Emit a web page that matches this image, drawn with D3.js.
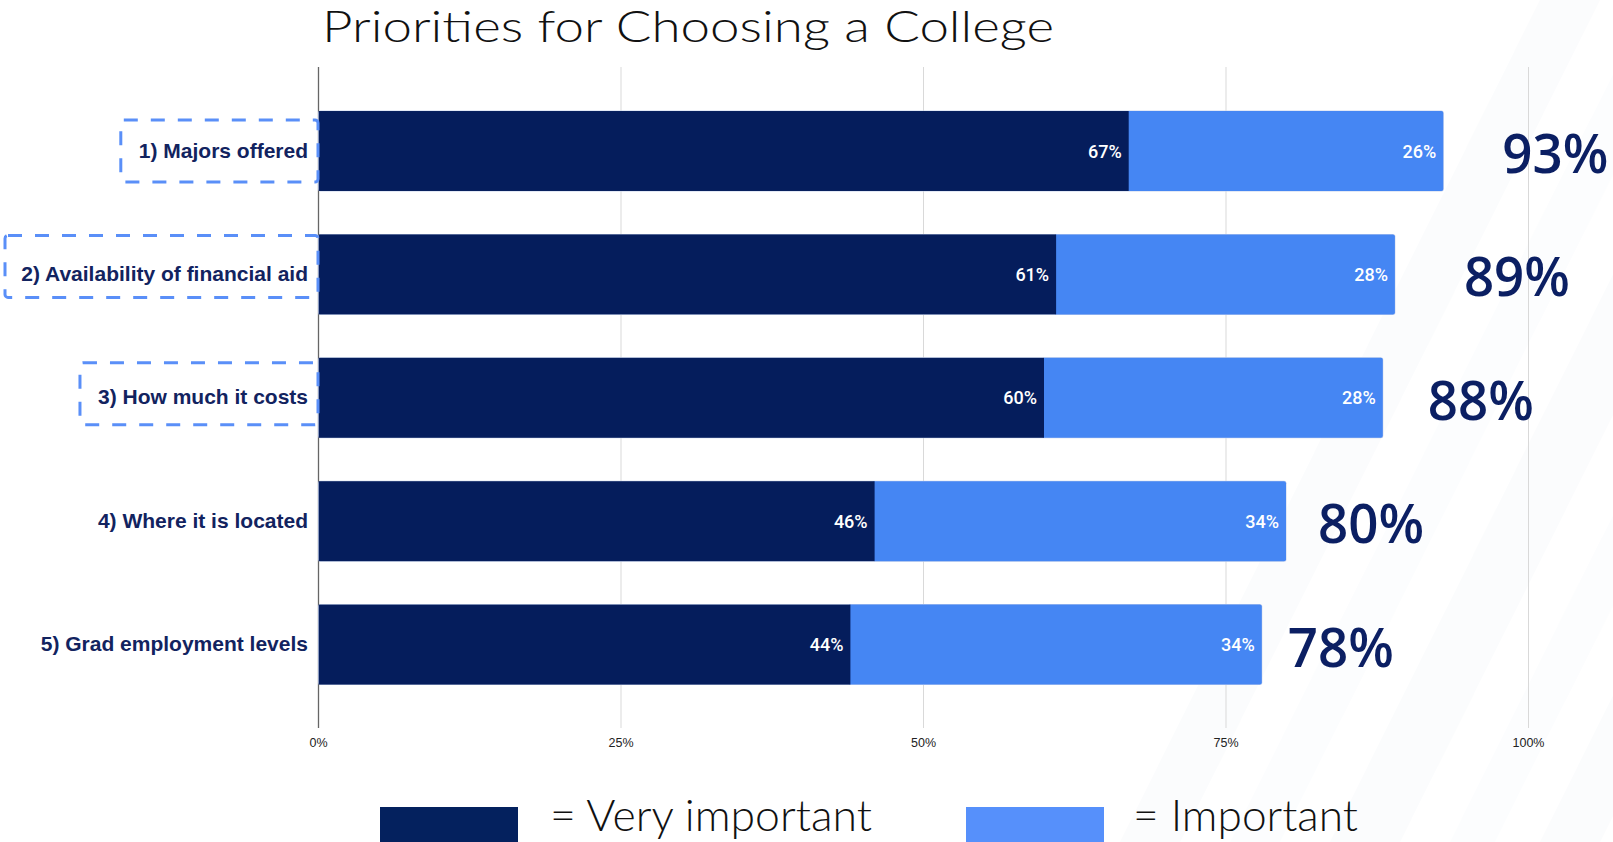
<!DOCTYPE html>
<html>
<head>
<meta charset="utf-8">
<script src="https://cdn.jsdelivr.net/npm/d3@7/dist/d3.min.js"></script>
<style>
  html, body { margin: 0; padding: 0; background: #ffffff; overflow: hidden; }
  svg { display: block; }
</style>
</head>
<body>
<svg id="chart" width="1613" height="842"></svg>
<script>
// Survey results: share of respondents rating each factor as important
const categories = [
  "1) Majors offered",
  "2) Availability of financial aid",
  "3) How much it costs",
  "4) Where it is located",
  "5) Grad employment levels"
];
const veryImportant = [67, 61, 60, 46, 44];
const important     = [26, 28, 28, 34, 34];
const totals        = [93, 89, 88, 80, 78];
const highlighted   = [true, true, true, false, false];
const tickValues    = [0, 25, 50, 75, 100];
const seriesNames   = ["= Very important", "= Important"];

// Layout constants
const W = 1613, H = 842;
const NAVY = "#051d5c", BLUE = "#4586f3";
const LEGEND_NAVY = "#04215e", LEGEND_BLUE = "#5690fb";
const TEXT_NAVY = "#12235f";
const gridTop = 67, gridBottom = 728;
const totalGap = [59, 69, 45, 32, 26];     // space between bar end and total label
const boxShift = [0, -8, -4];              // vertical nudge of highlight boxes

const svg = d3.select("#chart");

// faint diagonal background streaks on the right side
const streaks = svg.append("g").attr("class", "streaks");
[[1120, 60, 0.22], [1230, 50, 0.18], [1330, 70, 0.22], [1450, 45, 0.18], [1540, 60, 0.22]].forEach(([x0, w, o]) => {
  streaks.append("polygon")
    .attr("points", `${x0},${H} ${x0 + w},${H} ${x0 + w + 420},0 ${x0 + 420},0`)
    .attr("fill", "#eef2f8").attr("opacity", o);
});

const x = d3.scaleLinear().domain([0, 100]).range([318, 1528]);
const y = d3.scaleBand().domain(categories).range([89.3, 706.3]).paddingInner(0.352).paddingOuter(0.176);

// Gridlines + tick labels
const axis = d3.axisBottom(x)
  .tickValues(tickValues)
  .tickSize(-(gridBottom - gridTop))
  .tickPadding(10)
  .tickFormat(d => d + "%");

const axisG = svg.append("g")
  .attr("transform", `translate(0,${gridBottom})`)
  .call(axis);
axisG.select(".domain").remove();
axisG.selectAll(".tick line")
  .attr("stroke", (d) => d === 0 ? "#666666" : "#d9d9d9")
  .attr("stroke-width", (d) => d === 0 ? 1.3 : 1);
axisG.selectAll(".tick text")
  .attr("fill", "#222")
  .style("font-family", "'Liberation Sans', Arial, sans-serif")
  .style("font-size", "12.5px");

// Bars
const rows = categories.map((c, i) => ({
  cat: c, v: veryImportant[i], imp: important[i], total: totals[i], i
}));

const barG = svg.append("g");
const bw = y.bandwidth();

// thin outline behind each stacked bar
barG.selectAll("rect.outline").data(rows).join("rect")
  .attr("class", "outline")
  .attr("x", x(0)).attr("y", d => y(d.cat) - 0.5)
  .attr("width", d => x(d.v + d.imp) - x(0) + 0.5)
  .attr("height", bw + 1)
  .attr("rx", 2.5)
  .attr("fill", "#c8d3ec");

barG.selectAll("rect.imp").data(rows).join("rect")
  .attr("class", "imp")
  .attr("x", d => x(d.v) - 2).attr("y", d => y(d.cat))
  .attr("width", d => x(d.v + d.imp) - x(d.v) + 2)
  .attr("height", bw)
  .attr("rx", 2)
  .attr("fill", BLUE);

barG.selectAll("rect.very").data(rows).join("rect")
  .attr("class", "very")
  .attr("x", x(0) + 0.7).attr("y", d => y(d.cat))
  .attr("width", d => x(d.v) - x(0) - 0.7)
  .attr("height", bw)
  .attr("fill", NAVY);

// Segment value labels
const segFont = "Roboto, 'Liberation Sans', Arial, sans-serif";
barG.selectAll("text.vlab").data(rows).join("text")
  .attr("x", d => x(d.v) - 7)
  .attr("y", d => y(d.cat) + bw / 2 + 6.5)
  .attr("text-anchor", "end")
  .attr("fill", "#ffffff")
  .style("font-family", segFont).style("font-weight", 500).style("font-size", "18px")
  .text(d => d.v + "%");

barG.selectAll("text.ilab").data(rows).join("text")
  .attr("x", d => x(d.v + d.imp) - 7)
  .attr("y", d => y(d.cat) + bw / 2 + 6.5)
  .attr("text-anchor", "end")
  .attr("fill", "#ffffff")
  .style("font-family", segFont).style("font-weight", 500).style("font-size", "18px")
  .text(d => d.imp + "%");

// Stretch a text element to an exact width
function fitWidth(sel, target) {
  sel.attr("textLength", target).attr("lengthAdjust", "spacingAndGlyphs");
}

// Totals to the right of each bar
svg.append("g").selectAll("text").data(rows).join("text")
  .attr("x", d => x(d.total) + totalGap[d.i])
  .attr("y", d => y(d.cat) + bw / 2 + 22)
  .attr("fill", "#0b1f63")
  .attr("textLength", 106)
  .attr("lengthAdjust", "spacingAndGlyphs")
  .style("font-family", "'Open Sans', 'Noto Sans', sans-serif")
  .style("font-weight", 600)
  .style("font-size", "55px")
  .text(d => d.total + "%");

// Category labels
const labG = svg.append("g");
const labels = labG.selectAll("text").data(rows).join("text")
  .attr("x", 308)
  .attr("y", d => y(d.cat) + bw / 2 + 6.5)
  .attr("text-anchor", "end")
  .attr("fill", TEXT_NAVY)
  .style("font-family", "'Liberation Sans', Arial, sans-serif")
  .style("font-weight", 700)
  .style("font-size", "21px")
  .text(d => d.cat);

// Dashed highlight boxes round the top three priorities
labels.each(function (d) {
  if (!highlighted[d.i]) return;
  const bb = this.getBBox();
  const left = Math.max(5, bb.x - 18);
  const right = 318;
  const cy = y(d.cat) + bw / 2 + (boxShift[d.i] || 0);
  labG.append("rect")
    .attr("x", left).attr("y", cy - 31)
    .attr("width", right - left).attr("height", 62)
    .attr("rx", 3)
    .attr("fill", "none")
    .attr("stroke", "#5a8ff8")
    .attr("stroke-width", 3)
    .attr("stroke-dasharray", "14 13");
});

// Title
const title = svg.append("text")
  .attr("x", 322).attr("y", 42)
  .attr("fill", "#111")
  .style("font-family", "Lato, 'Noto Sans', sans-serif")
  .style("font-weight", 300)
  .style("font-size", "43px")
  .text("Priorities for Choosing a College");
fitWidth(title, 732);

// Legend
const legend = svg.append("g");
legend.append("rect").attr("x", 380).attr("y", 807).attr("width", 138).attr("height", 40).attr("fill", LEGEND_NAVY);
legend.append("rect").attr("x", 966).attr("y", 807).attr("width", 138).attr("height", 40).attr("fill", LEGEND_BLUE);
const l1 = legend.append("text").attr("x", 550).attr("y", 831)
  .attr("fill", "#111")
  .style("font-family", "Lato, 'Noto Sans', sans-serif").style("font-weight", 300).style("font-size", "44px")
  .text(seriesNames[0]);
fitWidth(l1, 322);
const l2 = legend.append("text").attr("x", 1133).attr("y", 831)
  .attr("fill", "#111")
  .style("font-family", "Lato, 'Noto Sans', sans-serif").style("font-weight", 300).style("font-size", "44px")
  .text(seriesNames[1]);
fitWidth(l2, 225);
</script>
</body>
</html>
